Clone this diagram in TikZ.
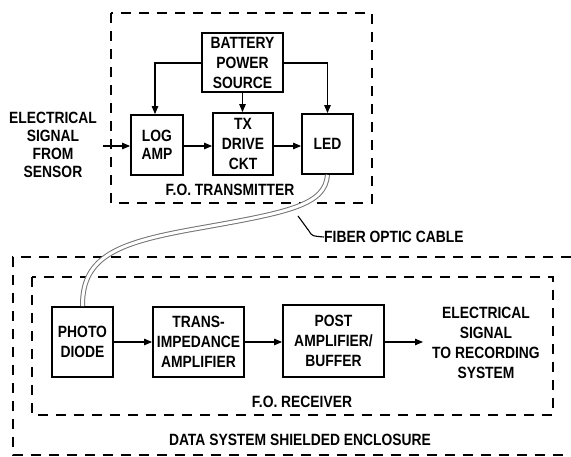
\documentclass[tikz,border=0pt]{standalone}
\usepackage{fontspec}
\setmainfont{Liberation Sans}[FakeStretch=0.85]
\usetikzlibrary{arrows.meta}
\newcommand\lblfont{\fontsize{16.3}{20}\selectfont\bfseries}
\newcommand\lbltight{\fontsize{16.3}{17.8}\selectfont\bfseries}
\begin{document}
\begin{tikzpicture}[x=1pt,y=-1pt,
  blk/.style={draw, line width=1.8pt, inner sep=0pt, align=center, font=\lblfont},
  txt/.style={inner sep=0pt, align=center, font=\lblfont},
  conn/.style={line width=1.1pt, -{Triangle[length=8pt,width=6.5pt]}},
  dbox/.style={draw, line width=1.8pt, dash pattern=on 10pt off 8pt},
  cable/.style={draw=black!55, line width=1pt, double=white, double distance=3pt},
  lead/.style={line width=1.1pt}]
\useasboundingbox (0,0) rectangle (571,457);
\fill[white] (0,0) rectangle (571,457);

% ---------- transmitter ----------
\draw[dbox] (111,13) rectangle (372,203);
\node[blk, minimum width=81pt, minimum height=59pt] (bat) at (242.5,62.5) {BATTERY\\POWER\\SOURCE};
\node[blk, minimum width=52pt, minimum height=60pt, font=\lbltight] (log) at (157,145) {LOG\\AMP};
\node[blk, minimum width=60pt, minimum height=62pt] (tx) at (243,144) {TX\\DRIVE\\CKT};
\node[blk, minimum width=51pt, minimum height=60pt] (led) at (327.5,144) {LED};
\node[txt, font=\lbltight] (src) at (53,145) {ELECTRICAL\\SIGNAL\\FROM\\SENSOR};
\node[txt] (txl) at (230,190) {F.O.\ TRANSMITTER};
\coordinate (in) at (103,146);
\coordinate (bl) at (155,63);
\coordinate (br) at (327.5,63);

\draw[conn] (in) -- (in -| log.west);
\draw[conn] (log.east |- in) -- (in -| tx.west);
\draw[conn] (tx.east |- in) -- (in -| led.west);
\draw[conn] (bat.west |- bl) -- (bl) -- (bl |- log.north);
\draw[conn] (bat.east |- br) -- (br) -- (led.north);
\draw[conn] (bat.south) -- (bat.south |- tx.north);

% ---------- receiver ----------
\draw[dbox] (571,257) -- (13,257) -- (13,455) -- (571,455);
\draw[dbox] (32,277) rectangle (553,415);
\node[blk, minimum width=61pt, minimum height=70pt] (pd) at (82.5,342) {PHOTO\\DIODE};
\node[blk, minimum width=91pt, minimum height=70pt] (ti) at (198.5,342) {TRANS-\\IMPEDANCE\\AMPLIFIER};
\node[blk, minimum width=101pt, minimum height=72pt] (pa) at (333.5,341) {POST\\AMPLIFIER/\\BUFFER};
\node[txt] (rec) at (486,343) {ELECTRICAL\\SIGNAL\\TO RECORDING\\SYSTEM};
\node[txt] (rxl) at (302,402) {F.O.\ RECEIVER};
\node[txt] (encl) at (300,440) {DATA SYSTEM SHIELDED ENCLOSURE};
\coordinate (out) at (423,342);

\draw[conn] (pd.east |- out) -- (out -| ti.west);
\draw[conn] (ti.east |- out) -- (out -| pa.west);
\draw[conn] (pa.east |- out) -- (out);

% ---------- fiber optic cable ----------
\draw[cable] (led.south) .. controls (325,205) and (290,212) .. (200,228)
  .. controls (120,242) and (82,255) .. (pd.north);
\node[txt, anchor=west] (fib) at (324,237) {FIBER OPTIC CABLE};
\coordinate (fc) at (298,216);
\draw[lead] (fc) -- (309,231) .. controls (312,236) .. (fib.west);
\end{tikzpicture}
\end{document}
